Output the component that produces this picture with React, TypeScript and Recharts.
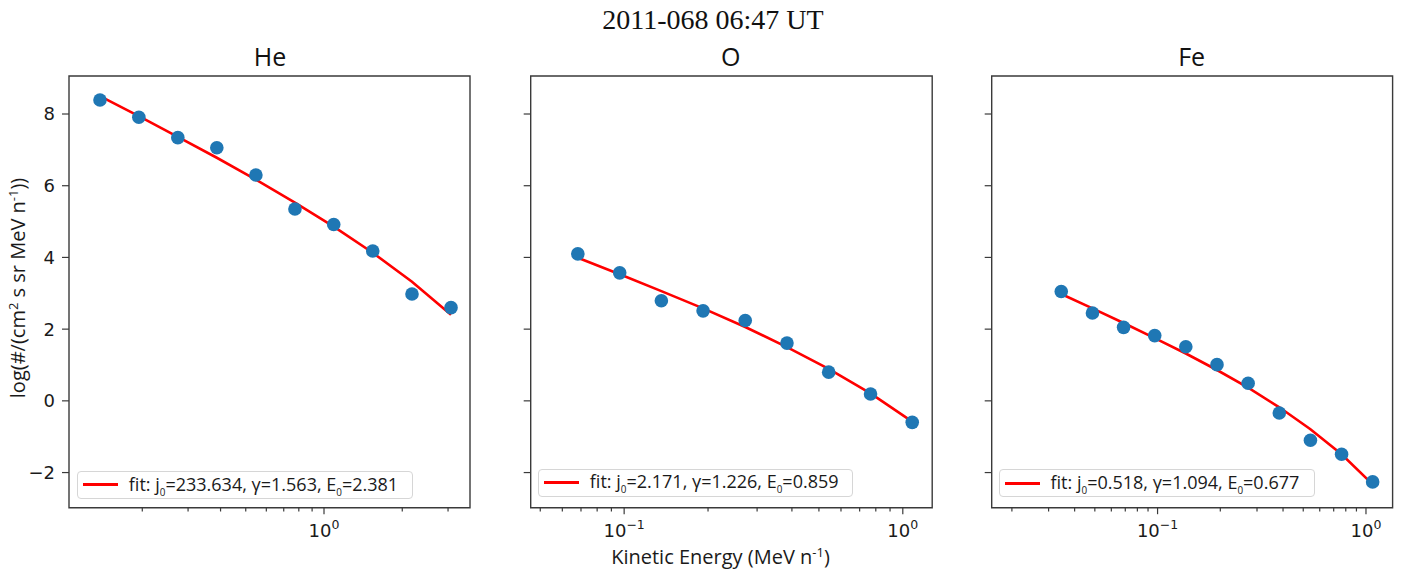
import React from 'react';
import { ComposedChart, Scatter, Line, XAxis, YAxis, ReferenceArea } from 'recharts';

// ---------- data ----------
const heEnergy = [0.1375, 0.194, 0.274, 0.387, 0.547, 0.773, 1.09, 1.54, 2.18, 3.08];
const heFlux = [8.39, 7.91, 7.34, 7.06, 6.3, 5.35, 4.92, 4.18, 2.98, 2.6];
const heFit = [8.5, 7.94, 7.36, 6.78, 6.17, 5.53, 4.86, 4.13, 3.32, 2.4];

const oEnergy = [0.0682, 0.0964, 0.136, 0.192, 0.272, 0.384, 0.542, 0.766, 1.081];
const oFlux = [4.1, 3.57, 2.79, 2.51, 2.24, 1.61, 0.8, 0.19, -0.6];
const oFit = [3.99, 3.53, 3.06, 2.58, 2.06, 1.5, 0.89, 0.21, -0.58];

const feEnergy = [0.0345, 0.0487, 0.0687, 0.0969, 0.1366, 0.1928, 0.272, 0.3838, 0.5414, 0.7638, 1.0765];
const feFlux = [3.05, 2.45, 2.05, 1.82, 1.51, 1.01, 0.49, -0.34, -1.1, -1.49, -2.26];
const feFit = [2.98, 2.58, 2.17, 1.75, 1.32, 0.86, 0.37, -0.18, -0.79, -1.49, -2.33];

const yTicks = [-2, 0, 2, 4, 6, 8];
const yDomain: [number, number] = [-2.98, 9.06];

const heXTicks = [0.2, 0.3, 0.4, 0.5, 0.6, 0.7, 0.8, 0.9, 1, 2, 3];
const oXTicks = [0.05, 0.06, 0.07, 0.08, 0.09, 0.1, 0.2, 0.3, 0.4, 0.5, 0.6, 0.7, 0.8, 0.9, 1];
const feXTicks = [0.02, 0.03, 0.04, 0.05, 0.06, 0.07, 0.08, 0.09, 0.1, 0.2, 0.3, 0.4, 0.5, 0.6, 0.7, 0.8, 0.9, 1];

const heXDomain: [number, number] = [0.1045, 3.644];
const oXDomain: [number, number] = [0.0462, 1.275];
const feXDomain: [number, number] = [0.016, 1.342];

const titles = ['He', 'O', 'Fe'];
const fitJ0 = ['233.634', '2.171', '0.518'];
const fitGamma = ['1.563', '1.226', '1.094'];
const fitE0 = ['2.381', '0.859', '0.677'];

const mainTitle = '2011-068 06:47 UT';

// ---------- layout ----------
const W = 1413;
const H = 574;
const FRAME_TOP = 76;
const FRAME_BOTTOM = 507.7;

const zip = (xs: number[], ys: number[]) => xs.map((x, i) => ({ x, y: ys[i] }));

const panels = [
  {
    title: titles[0], left: 69, right: 470, titleX: 270,
    xDomain: heXDomain, xTicks: heXTicks,
    obs: zip(heEnergy, heFlux), fit: zip(heEnergy, heFit),
    legend: { left: 77.3, top: 470.7, width: 335.4, height: 28.3 },
    showYLabels: true,
  },
  {
    title: titles[1], left: 530.7, right: 932.2, titleX: 730.7,
    xDomain: oXDomain, xTicks: oXTicks,
    obs: zip(oEnergy, oFlux), fit: zip(oEnergy, oFit),
    legend: { left: 538.3, top: 468.5, width: 315, height: 28 },
    showYLabels: false,
  },
  {
    title: titles[2], left: 991.7, right: 1392.6, titleX: 1191.7,
    xDomain: feXDomain, xTicks: feXTicks,
    obs: zip(feEnergy, feFlux), fit: zip(feEnergy, feFit),
    legend: { left: 999, top: 469.3, width: 316, height: 28 },
    showYLabels: false,
  },
];

const AXIS_COLOR = '#3a3a3a';
const TICK_FONT = '"DejaVu Sans", sans-serif';
const LABEL_FONT = '"Open Sans", sans-serif';

const XTick = (props: any) => {
  const { x, y, payload } = props;
  const v = payload.value as number;
  const lg = Math.log10(v);
  const exp = Math.round(lg);
  const major = Math.abs(lg - exp) < 1e-6;
  return (
    <g>
      <line x1={x} x2={x} y1={y} y2={y + (major ? 6.5 : 3.8)} stroke={AXIS_COLOR} strokeWidth={1.2} />
      {major && (
        <text x={x} y={y + 29} textAnchor="middle" fontSize={18} fontFamily={TICK_FONT} fill="#1a1a1a">
          10
          <tspan dy={-8} fontSize={12.5}>{String(exp).replace('-', '\u2212')}</tspan>
        </text>
      )}
    </g>
  );
};

const makeYTick = (showLabel: boolean) => (props: any) => {
  const { x, y, payload } = props;
  const v = payload.value as number;
  return (
    <g>
      <line x1={x - 7} x2={x} y1={y} y2={y} stroke={AXIS_COLOR} strokeWidth={1.2} />
      {showLabel && (
        <text x={x - 14} y={y} dy="0.36em" textAnchor="end" fontSize={18} fontFamily={TICK_FONT} fill="#1a1a1a">
          {v < 0 ? '\u2212' + Math.abs(v) : String(v)}
        </text>
      )}
    </g>
  );
};

const Dot = (props: any) => {
  const { cx, cy } = props;
  if (cx == null || cy == null) return null;
  return <circle cx={cx} cy={cy} r={6.8} fill="#1f77b4" />;
};

const Panel = ({ p, idx }: { p: (typeof panels)[number]; idx: number }) => (
  <div style={{ position: 'absolute', left: 0, top: 0, width: W, height: H }}>
    <ComposedChart
      width={W}
      height={H}
      margin={{ top: FRAME_TOP, bottom: H - FRAME_BOTTOM - 1, left: p.left - 1, right: W - p.right }}
    >
      <XAxis
        dataKey="x"
        type="number"
        scale="log"
        domain={p.xDomain}
        allowDataOverflow
        ticks={p.xTicks}
        interval={0}
        height={1}
        tickSize={0}
        tickMargin={0}
        tickLine={false}
        axisLine={false}
        tick={XTick}
      />
      <YAxis
        dataKey="y"
        type="number"
        domain={yDomain}
        allowDataOverflow
        ticks={yTicks}
        interval={0}
        width={1}
        tickSize={0}
        tickMargin={0}
        tickLine={false}
        axisLine={false}
        tick={makeYTick(p.showYLabels)}
      />
      <Scatter data={p.obs} dataKey="y" shape={Dot} isAnimationActive={false} />
      <Line
        data={p.fit}
        dataKey="y"
        type="linear"
        stroke="#ff0000"
        strokeWidth={2.6}
        dot={false}
        activeDot={false}
        isAnimationActive={false}
      />
      <ReferenceArea
        x1={p.xDomain[0]}
        x2={p.xDomain[1]}
        y1={yDomain[0]}
        y2={yDomain[1]}
        ifOverflow="visible"
        fill="none"
        fillOpacity={0}
        stroke={AXIS_COLOR}
        strokeWidth={1.4}
      />
    </ComposedChart>
    <div
      style={{
        position: 'absolute',
        left: p.legend.left,
        top: p.legend.top,
        width: p.legend.width,
        height: p.legend.height,
        boxSizing: 'border-box',
        border: '1px solid #d6d6d6',
        borderRadius: 4,
        background: 'rgba(255,255,255,0.85)',
        display: 'flex',
        alignItems: 'center',
        fontFamily: LABEL_FONT,
        fontSize: 18,
        color: '#1a1a1a',
        whiteSpace: 'nowrap',
      }}
    >
      <span style={{ display: 'inline-block', width: 35, height: 3.2, background: '#ff0000', marginLeft: 4.5, marginRight: 11 }} />
      <span>
        fit: j<sub style={{ fontSize: '55%' }}>0</sub>={fitJ0[idx]}, γ={fitGamma[idx]}, E<sub style={{ fontSize: '55%' }}>0</sub>={fitE0[idx]}
      </span>
    </div>
  </div>
);

export default function App() {
  return (
    <div style={{ position: 'absolute', left: 0, top: 0, width: W, height: H, background: '#fff', overflow: 'hidden' }}>
      {panels.map((p, i) => (
        <Panel key={p.title} p={p} idx={i} />
      ))}
      <svg
        width={W}
        height={H}
        style={{ position: 'absolute', left: 0, top: 0, pointerEvents: 'none' }}
      >
        <text x={713} y={28.5} textAnchor="middle" fontFamily='"Liberation Serif", serif' fontSize={28} fill="#111">
          {mainTitle}
        </text>
        {panels.map((p) => (
          <text key={p.title} x={p.titleX} y={65.5} textAnchor="middle" fontFamily={LABEL_FONT} fontSize={25} fill="#111">
            {p.title}
          </text>
        ))}
        <text
          transform="translate(25, 288) rotate(-90)"
          textAnchor="middle"
          fontFamily={LABEL_FONT}
          fontSize={20}
          fill="#1a1a1a"
        >
          log(#/(cm<tspan dy={-7} fontSize={13}>2</tspan>
          <tspan dy={7}> s sr MeV n</tspan>
          <tspan dy={-7} fontSize={13}>-1</tspan>
          <tspan dy={7}>))</tspan>
        </text>
        <text x={720.5} y={564} textAnchor="middle" fontFamily={LABEL_FONT} fontSize={20} fill="#1a1a1a">
          Kinetic Energy (MeV n<tspan dy={-7} fontSize={13}>-1</tspan>
          <tspan dy={7}>)</tspan>
        </text>
      </svg>
    </div>
  );
}
